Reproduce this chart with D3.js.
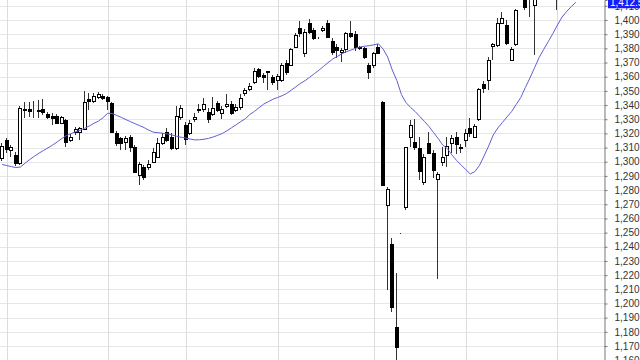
<!DOCTYPE html>
<html>
<head>
<meta charset="utf-8">
<script src="https://cdnjs.cloudflare.com/ajax/libs/d3/7.8.5/d3.min.js"></script>
<style>
html, body { margin: 0; padding: 0; background: #fff; }
svg { display: block; font-family: "Liberation Sans", Arial, sans-serif; }
</style>
</head>
<body>
<div id="chart"></div>
<script>
// daily bars, index 0..125 (last few sit above the visible price range)
var opens = [1302.6,1315.0,1308.3,1304.8,1299.1,1337.3,1337.0,1336.3,1336.0,1336.9,
  1333.6,1332.5,1332.3,1327.5,1329.5,1315.3,1321.0,1321.2,1322.9,1344.3,
  1342.9,1345.5,1346.4,1345.5,1341.2,1320.1,1316.5,1314.1,1317.2,1310.6,
  1290.6,1296.1,1296.1,1300.0,1303.6,1313.4,1321.2,1317.7,1309.5,1331.8,
  1325.9,1320.5,1330.0,1336.8,1337.0,1335.3,1333.7,1341.2,1334.2,1339.3,
  1340.7,1336.5,1338.4,1348.3,1351.1,1356.5,1365.2,1361.4,1363.6,1360.0,
  1357.7,1357.7,1369.4,1368.3,1381.2,1394.1,1376.5,1397.7,1392.9,1387.3,
  1393.0,1398.1,1385.4,1381.2,1377.6,1379.3,1390.6,1389.9,1380.0,1380.0,
  1368.3,1368.3,1381.0,1342.4,1269.5,1242.0,1183.6,1249.6,1268.3,1317.7,
  1314.1,1309.9,1285.9,1313.4,1306.0,1287.6,1300.0,1304.8,1313.0,1317.7,
  1310.4,1315.3,1323.6,1317.7,1330.0,1354.6,1357.7,1381.9,1382.4,1397.7,
  1396.5,1371.8,1383.1,1415.0,1416.0,1418.0,1410.6,1418.0,1420.0,1422.0,
  1425.0,1426.0,1425.0,1428.0,1430.0,1432.0];
var highs = [1313.2,1316.8,1311.8,1306.9,1339.3,1341.8,1341.8,1342.8,1343.6,1344.3,
  1335.1,1334.4,1333.7,1332.3,1330.2,1319.6,1324.5,1324.7,1350.1,1348.5,
  1348.5,1349.2,1347.8,1346.4,1342.1,1321.7,1317.5,1318.2,1318.9,1311.5,
  1299.8,1297.7,1301.2,1309.7,1316.8,1320.3,1323.8,1320.3,1339.3,1340.0,
  1328.0,1329.5,1334.4,1340.7,1345.0,1337.9,1345.7,1342.9,1339.3,1347.8,
  1342.9,1340.7,1347.8,1352.0,1355.6,1366.1,1366.3,1362.6,1364.0,1361.1,
  1362.0,1370.0,1371.6,1380.2,1390.6,1399.1,1393.3,1400.5,1394.1,1388.0,
  1395.5,1400.0,1387.0,1383.0,1380.0,1391.5,1399.0,1392.0,1382.0,1381.2,
  1369.4,1377.6,1383.1,1342.6,1282.4,1246.0,1221.3,1249.8,1310.4,1329.5,
  1330.0,1317.7,1305.2,1321.2,1308.3,1292.8,1310.6,1317.7,1318.9,1321.2,
  1312.3,1322.9,1330.6,1326.6,1352.0,1357.2,1374.1,1384.0,1401.2,1405.3,
  1400.0,1381.2,1407.6,1418.0,1418.0,1420.0,1420.0,1422.0,1424.0,1427.0,
  1429.0,1430.0,1430.0,1433.0,1434.0,1436.0];
var lows = [1300.5,1306.2,1303.3,1297.0,1297.7,1331.2,1331.9,1330.9,1330.9,1333.0,
  1330.2,1326.0,1326.6,1326.6,1310.6,1313.9,1318.9,1315.3,1322.4,1336.5,
  1341.4,1344.3,1343.6,1336.5,1320.3,1311.1,1308.3,1308.3,1306.9,1292.8,
  1283.6,1287.1,1294.2,1299.1,1302.6,1311.8,1313.9,1308.3,1308.3,1329.5,
  1311.8,1318.9,1328.0,1334.4,1335.1,1327.3,1332.3,1335.1,1330.2,1337.9,
  1333.0,1335.1,1336.5,1346.4,1349.9,1354.8,1358.8,1355.5,1350.6,1354.1,
  1350.6,1356.0,1361.2,1367.4,1380.2,1387.8,1374.1,1389.9,1385.7,1386.5,
  1391.5,1387.0,1375.5,1373.0,1370.5,1377.0,1387.0,1378.0,1379.0,1372.5,
  1358.1,1366.0,1376.0,1283.4,1209.5,1194.2,1158.0,1249.3,1266.0,1310.6,
  1308.3,1287.1,1283.6,1305.2,1288.3,1217.1,1297.0,1296.5,1306.0,1305.2,
  1306.0,1310.6,1317.7,1316.5,1328.7,1348.3,1350.8,1371.8,1381.2,1396.9,
  1382.4,1371.1,1381.9,1414.5,1407.0,1402.3,1375.3,1415.0,1417.0,1419.0,
  1421.0,1407.1,1422.0,1424.0,1426.0,1428.0];
var closes = [1311.1,1309.3,1310.2,1298.9,1337.7,1336.8,1335.8,1336.6,1336.2,1335.4,
  1331.6,1330.6,1327.5,1331.4,1314.1,1317.7,1322.9,1323.6,1342.4,1342.9,
  1346.4,1347.8,1344.8,1343.1,1321.2,1313.0,1313.4,1316.5,1310.6,1293.0,
  1298.4,1289.4,1298.4,1307.1,1313.4,1317.7,1315.3,1309.5,1332.3,1337.7,
  1315.8,1327.1,1331.8,1337.2,1340.5,1330.0,1337.7,1336.5,1337.4,1340.5,
  1334.2,1338.8,1344.8,1350.6,1353.4,1364.2,1360.5,1360.0,1363.9,1356.5,
  1360.5,1368.3,1363.5,1379.3,1389.4,1390.6,1391.7,1391.3,1387.1,1387.0,
  1394.6,1388.2,1377.2,1378.8,1378.8,1390.6,1388.7,1381.2,1381.2,1373.7,
  1363.5,1376.5,1376.7,1283.6,1280.6,1197.7,1169.5,1249.5,1310.2,1325.9,
  1310.6,1293.5,1303.6,1306.0,1294.2,1291.1,1303.6,1311.1,1317.0,1312.5,
  1310.0,1320.0,1320.0,1325.2,1351.1,1351.8,1371.8,1383.1,1397.7,1401.2,
  1383.6,1379.3,1407.1,1418.0,1409.2,1416.0,1418.0,1420.0,1422.0,1425.0,
  1427.0,1424.0,1428.0,1430.0,1432.0,1434.0];
// moving average
var ma = [1298.1,1297.3,1296.6,1295.9,1296.3,1299.0,1301.5,1303.8,1306.0,1307.9,
  1309.8,1311.8,1314.0,1316.3,1318.5,1319.8,1321.2,1322.3,1323.6,1325.2,
  1327.1,1328.7,1331.1,1334.2,1334.0,1332.6,1331.3,1329.7,1328.2,1326.8,
  1325.4,1324.0,1322.2,1320.8,1320.5,1320.1,1319.6,1318.9,1318.0,1317.3,
  1316.7,1316.0,1315.4,1315.5,1315.9,1316.5,1317.5,1318.7,1320.0,1321.9,
  1324.0,1326.1,1328.3,1330.4,1333.4,1335.6,1338.2,1340.7,1342.4,1344.1,
  1345.3,1346.6,1348.2,1350.5,1352.9,1355.3,1357.2,1359.6,1362.1,1364.5,
  1367.2,1369.9,1372.4,1374.2,1376.2,1377.6,1378.8,1380.0,1381.0,1381.5,
  1381.9,1382.5,1383.2,1379.5,1373.9,1364.7,1357.3,1347.4,1341.7,1338.3,
  1335.4,1331.9,1328.5,1324.9,1320.6,1316.4,1311.8,1309.3,1304.8,1300.9,
  1297.8,1294.5,1291.4,1293.1,1297.4,1304.1,1311.1,1318.9,1323.8,1327.7,
  1331.6,1335.4,1340.4,1345.3,1352.4,1359.1,1366.3,1373.5,1379.3,1384.8,
  1390.5,1396.5,1402.1,1406.0,1409.5,1412.53];
var monthStarts = [1, 23, 40, 60, 81, 101, 121];
var yTicks = d3.range(1160, 1411, 10);

var width = 640, height = 360, axisX = 604;

var svg = d3.select("#chart").append("svg")
    .attr("width", width)
    .attr("height", height);

var x = d3.scaleLinear()
    .domain([0, opens.length - 1])
    .range([2.11, 2.11 + 4.59 * (opens.length - 1)]);
var y = d3.scaleLinear()
    .domain([1160.13, 1414.11])
    .range([360, 0]);

svg.append("clipPath").attr("id", "plotclip")
  .append("rect")
    .attr("width", axisX)
    .attr("height", height);

// grid
var grid = svg.append("g").attr("shape-rendering", "crispEdges");
grid.selectAll(".hgrid")
    .data(yTicks)
    .enter().append("line")
    .attr("class", "hgrid")
    .attr("x1", 0).attr("x2", axisX)
    .attr("y1", function(d) { return Math.round(y(d)) + 0.5; })
    .attr("y2", function(d) { return Math.round(y(d)) + 0.5; })
    .attr("stroke", "#e6e6e6");
grid.selectAll(".vgrid")
    .data(monthStarts)
    .enter().append("line")
    .attr("class", "vgrid")
    .attr("x1", function(d) { return Math.round(x(d)) + 0.5; })
    .attr("x2", function(d) { return Math.round(x(d)) + 0.5; })
    .attr("y1", 0).attr("y2", height)
    .attr("stroke", "#dcdcdc");

var plot = svg.append("g").attr("clip-path", "url(#plotclip)");

// candles
var bars = plot.append("g").attr("shape-rendering", "crispEdges")
  .selectAll("g")
    .data(opens)
    .enter().append("g");

bars.append("line")
    .attr("x1", function(d, i) { return Math.round(x(i)) - 0.5; })
    .attr("x2", function(d, i) { return Math.round(x(i)) - 0.5; })
    .attr("y1", function(d, i) { return Math.round(y(highs[i])); })
    .attr("y2", function(d, i) { return Math.round(y(lows[i])); })
    .attr("stroke", "#333");

bars.append("rect")
    .attr("x", function(d, i) { return Math.round(x(i)) - 1.5; })
    .attr("width", 3)
    .attr("y", function(d, i) { return Math.round(y(Math.max(opens[i], closes[i]))) + 0.5; })
    .attr("height", function(d, i) {
        return Math.max(0, Math.round(y(Math.min(opens[i], closes[i]))) - Math.round(y(Math.max(opens[i], closes[i]))));
    })
    .attr("fill", function(d, i) { return closes[i] >= opens[i] ? "#fff" : "#000"; })
    .attr("stroke", "#000");

// moving average
var maLine = d3.line()
    .x(function(d, i) { return x(i); })
    .y(function(d) { return y(d); });
plot.append("path")
    .datum(ma)
    .attr("d", maLine)
    .attr("fill", "none")
    .attr("stroke", "#5f5fd4")
    .attr("stroke-width", 1);

// price axis on the right
var yAxis = d3.axisRight(y)
    .tickValues(yTicks)
    .tickSize(3)
    .tickPadding(7)
    .tickFormat(d3.format(","));
var ax = svg.append("g")
    .attr("transform", "translate(" + (axisX + 0.5) + ",0)")
    .call(yAxis);
ax.select(".domain").attr("stroke", "#777");
ax.selectAll(".tick line").attr("stroke", "#777");
ax.selectAll("text").attr("fill", "#333").attr("font-size", 10);

// last value tag for the average
var last = ma[ma.length - 1];
svg.append("rect")
    .attr("x", 608)
    .attr("y", y(last) - 6)
    .attr("width", 34)
    .attr("height", 12)
    .attr("fill", "#1a1aff");
svg.append("text")
    .attr("x", 610)
    .attr("y", y(last))
    .attr("dy", "0.35em")
    .attr("font-size", 10)
    .attr("fill", "#fff")
    .text(d3.format(",.2f")(last));
</script>
</body>
</html>
